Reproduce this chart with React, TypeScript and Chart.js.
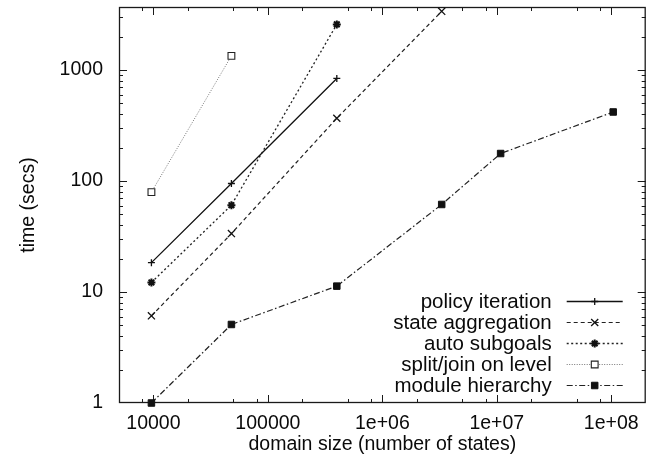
import React, { useEffect, useRef } from 'react';
import { Chart, registerables } from 'chart.js';
import { drawPoint } from 'chart.js/helpers';

Chart.register(...registerables);

// ---- data ----
const domainSizes = [9600, 48000, 400000, 3300000, 10800000, 104000000];
const policyIteration = [18.4, 95, 840];
const stateAggregation = [6.1, 33.6, 368, 3380];
const autoSubgoals = [12.2, 60.6, 2580];
const splitJoin = [79.4, 1343];
const moduleHierarchy = [1.0, 5.1, 11.3, 61.5, 177, 419];

const seriesNames = [
  'policy iteration',
  'state aggregation',
  'auto subgoals',
  'split/join on level',
  'module hierarchy',
];

const xTickValues = [10000, 100000, 1e6, 1e7, 1e8];
const xTickLabels = ['10000', '100000', '1e+06', '1e+07', '1e+08'];
const yTickValues = [1, 10, 100, 1000];
const yTickLabels = ['1', '10', '100', '1000'];

const xTitle = 'domain size (number of states)';
const yTitle = 'time (secs)';

const FONT = '"Liberation Sans", Arial, Helvetica, sans-serif';
const TEXT = '#0a0a0a';

const toPoints = (ys: number[]) => ys.map((y, i) => ({ x: domainSizes[i], y }));

const lookup = (v: number, vals: number[], labels: string[]) => {
  for (let i = 0; i < vals.length; i++) {
    if (Math.abs(v / vals[i] - 1) < 1e-6) return labels[i];
  }
  return '';
};

const mantissa = (v: number) => {
  const e = Math.floor(Math.log10(v) + 1e-9);
  return v / Math.pow(10, e);
};

const frameTicks = {
  id: 'frameTicks',
  beforeDatasetsDraw(chart: any) {
    const { ctx, chartArea: a, scales } = chart;
    const xs = scales.x;
    const ys = scales.y;
    ctx.save();
    ctx.strokeStyle = '#1a1a1a';
    ctx.lineWidth = 1;
    ctx.setLineDash([]);
    ctx.beginPath();
    xs.ticks.forEach((t: any) => {
      const m = mantissa(t.value);
      const major = Math.abs(m - 1) < 1e-6;
      if (!major && ![2, 5, 8].some((k) => Math.abs(m - k) < 1e-6)) return;
      const px = Math.round(xs.getPixelForValue(t.value)) + 0.5;
      if (px <= a.left + 1 || px >= a.right - 1) return;
      const len = major ? 8 : 4;
      ctx.moveTo(px, a.bottom);
      ctx.lineTo(px, a.bottom - len);
      ctx.moveTo(px, a.top);
      ctx.lineTo(px, a.top + len);
    });
    ys.ticks.forEach((t: any) => {
      const m = mantissa(t.value);
      const major = Math.abs(m - 1) < 1e-6;
      const isInt = Math.abs(m - Math.round(m)) < 1e-6;
      if (!major && !isInt) return;
      const py = Math.round(ys.getPixelForValue(t.value)) + 0.5;
      if (py <= a.top + 1 || py >= a.bottom - 1) return;
      const len = major ? 8 : 4;
      ctx.moveTo(a.left, py);
      ctx.lineTo(a.left + len, py);
      ctx.moveTo(a.right, py);
      ctx.lineTo(a.right - len, py);
    });
    ctx.stroke();
    ctx.lineWidth = 1.3;
    ctx.strokeRect(a.left + 0.5, a.top + 0.5, a.right - a.left - 1, a.bottom - a.top - 1);
    ctx.restore();
  },
};

const sideLegend = {
  id: 'sideLegend',
  afterDraw(chart: any) {
    const { ctx, chartArea: a } = chart;
    const textRight = a.right - 94;
    const lineStart = a.right - 79;
    const lineEnd = a.right - 23;
    const rowH = 21;
    const firstY = a.bottom - 102;
    ctx.save();
    ctx.font = `20.5px ${FONT}`;
    ctx.textAlign = 'right';
    ctx.textBaseline = 'middle';
    chart.data.datasets.forEach((ds: any, i: number) => {
      const y = firstY + i * rowH;
      ctx.fillStyle = TEXT;
      ctx.fillText(ds.label, textRight, y + 1);
      ctx.strokeStyle = ds.borderColor;
      ctx.lineWidth = ds.borderWidth;
      ctx.setLineDash(ds.borderDash || []);
      ctx.beginPath();
      ctx.moveTo(lineStart, y + 0.5);
      ctx.lineTo(lineEnd, y + 0.5);
      ctx.stroke();
      ctx.setLineDash([]);
      ctx.fillStyle = ds.pointBackgroundColor;
      ctx.strokeStyle = ds.pointBorderColor;
      ctx.lineWidth = ds.pointBorderWidth;
      drawPoint(
        ctx,
        { pointStyle: ds.pointStyle, rotation: 0, radius: ds.pointRadius, borderWidth: ds.pointBorderWidth },
        (lineStart + lineEnd) / 2,
        y + 0.5
      );
    });
    ctx.restore();
  },
};

const noPad = (s: any) => {
  s.paddingTop = 0;
  s.paddingBottom = 0;
  s.paddingLeft = 0;
  s.paddingRight = 0;
};

export default function App() {
  const ref = useRef<HTMLCanvasElement | null>(null);

  useEffect(() => {
    if (!ref.current) return;
    const chart = new Chart(ref.current, {
      type: 'line',
      data: {
        datasets: [
          {
            label: seriesNames[0],
            data: toPoints(policyIteration),
            borderColor: '#111',
            borderWidth: 1.3,
            borderDash: [],
            pointStyle: 'cross',
            pointRadius: 3.5,
            pointBorderWidth: 1.3,
            pointBorderColor: '#111',
            pointBackgroundColor: '#111',
            clip: false,
          },
          {
            label: seriesNames[1],
            data: toPoints(stateAggregation),
            borderColor: '#222',
            borderWidth: 1.2,
            borderDash: [4, 3],
            pointStyle: 'crossRot',
            pointRadius: 5,
            pointBorderWidth: 1.3,
            pointBorderColor: '#111',
            pointBackgroundColor: '#111',
            clip: false,
          },
          {
            label: seriesNames[2],
            data: toPoints(autoSubgoals),
            borderColor: '#222',
            borderWidth: 1.3,
            borderDash: [2, 2.5],
            pointStyle: 'star',
            pointRadius: 4,
            pointBorderWidth: 2,
            pointBorderColor: '#111',
            pointBackgroundColor: '#111',
            clip: false,
          },
          {
            label: seriesNames[3],
            data: toPoints(splitJoin),
            borderColor: '#777',
            borderWidth: 1,
            borderDash: [1, 1.5],
            pointStyle: 'rect',
            pointRadius: 4.8,
            pointBorderWidth: 1.1,
            pointBorderColor: '#222',
            pointBackgroundColor: '#fff',
            clip: false,
          },
          {
            label: seriesNames[4],
            data: toPoints(moduleHierarchy),
            borderColor: '#222',
            borderWidth: 1.2,
            borderDash: [6, 2.5, 1.5, 2.5],
            pointStyle: 'rect',
            pointRadius: 4.6,
            pointBorderWidth: 1,
            pointBorderColor: '#111',
            pointBackgroundColor: '#111',
            clip: false,
          },
        ],
      },
      options: {
        animation: false,
        responsive: false,
        devicePixelRatio: 1,
        events: [],
        layout: { padding: { top: 7, right: 3, left: 0, bottom: 0 } },
        plugins: {
          legend: { display: false },
          tooltip: { enabled: false },
        },
        scales: {
          x: {
            type: 'logarithmic',
            min: 5000,
            max: 2e8,
            grid: { display: false, drawTicks: false },
            border: { display: false },
            ticks: {
              autoSkip: false,
              maxRotation: 0,
              minRotation: 0,
              padding: 9,
              color: TEXT,
              font: { family: FONT, size: 19.5 },
              callback: (v: any) => lookup(Number(v), xTickValues, xTickLabels),
            },
            title: {
              display: true,
              text: xTitle,
              color: TEXT,
              font: { family: FONT, size: 19.5 },
              padding: { top: 0, bottom: 12 },
            },
            afterFit: (s: any) => {
              s.height = 65;
              noPad(s);
            },
          },
          y: {
            type: 'logarithmic',
            min: 1,
            max: 3700,
            grid: { display: false, drawTicks: false },
            border: { display: false },
            ticks: {
              autoSkip: false,
              padding: 16,
              color: TEXT,
              font: { family: FONT, size: 19.5 },
              callback: (v: any) => lookup(Number(v), yTickValues, yTickLabels),
            },
            title: {
              display: true,
              text: yTitle,
              color: TEXT,
              font: { family: FONT, size: 19.5 },
              padding: { top: 17, bottom: 0 },
            },
            afterFit: (s: any) => {
              s.width = 119;
              noPad(s);
            },
          },
        },
      },
      plugins: [frameTicks, sideLegend],
    } as any);
    return () => chart.destroy();
  }, []);

  return (
    <div style={{ position: 'fixed', left: 0, top: 0, width: 652, height: 468, background: '#fff' }}>
      <canvas ref={ref} width={652} height={468} style={{ width: 652, height: 468, display: 'block' }} />
    </div>
  );
}
